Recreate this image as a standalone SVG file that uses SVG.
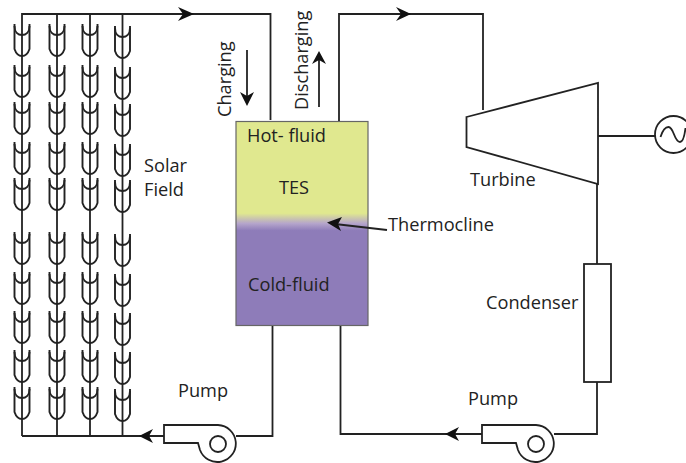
<svg xmlns="http://www.w3.org/2000/svg" width="686" height="463" viewBox="0 0 686 463">
<style>
.l{fill:none;stroke:#222;stroke-width:1.8}
.c{fill:none;stroke:#222;stroke-width:1.9}
.h{fill:#111;stroke:none}
text{font-family:"Open Sans","Noto Sans","Liberation Sans",sans-serif;font-size:18.2px;fill:#222}
</style>
<defs>
<linearGradient id="tes" x1="0" y1="0" x2="0" y2="1">
<stop offset="0" stop-color="#e0e88f"/><stop offset="0.45" stop-color="#e0e88f"/><stop offset="0.5" stop-color="#b5a5cb"/><stop offset="0.535" stop-color="#8e7cb9"/><stop offset="1" stop-color="#8e7cb9"/>
</linearGradient>
<g id="col">
<path class="c" d="M-7.500 2C-7.500 8-4 11 0 11C4 11 7.500 8 7.500 2"/>
<path class="c" d="M-7.500 0V25C-6 29.500-3 32 0 32C3 32 6 29.500 7.500 25V0"/>
</g>
<g id="cols">
<use href="#col" y="24"/><use href="#col" y="65"/><use href="#col" y="102"/><use href="#col" y="142"/><use href="#col" y="178"/>
<use href="#col" y="232"/><use href="#col" y="272"/><use href="#col" y="311"/><use href="#col" y="350"/><use href="#col" y="387"/>
</g>
</defs>
<g id="tes-tank"><rect x="236" y="121.500" width="132" height="204" fill="url(#tes)" stroke="#666" stroke-width="1.200"/>
<text x="247" y="141.500">Hot- fluid</text><text x="279" y="193.500">TES</text><text x="248" y="290.500">Cold-fluid</text></g>
<g id="solar-field">
<use href="#cols" x="22"/><use href="#cols" x="57"/><use href="#cols" x="90"/><use href="#cols" x="122.500" y="2"/>
<text x="144" y="172">Solar</text><text x="144" y="196">Field</text></g>
<g id="connectors">
<path class="l" d="M22 436V14H270.500V120"/>
<path class="l" d="M57 14V436M90 14V436M122.500 14V436"/>
<path class="l" d="M22 436H164"/>
<path class="l" d="M236 436H272.500V326"/>
<path class="l" d="M339 121V14H483V110"/>
<path class="l" d="M597 184V264M597 382V434H554"/>
<path class="l" d="M482 434H340.500V326"/>
<path class="l" d="M598 136H655"/>
<path class="h" d="M194 14L178 7L183 14L178 21Z"/>
<path class="h" d="M411 14L396 7L401 14L396 21Z"/>
<path class="h" d="M139 436L153 429L149 436L153 443Z"/>
<path class="h" d="M445 434L459 427L455 434L459 441Z"/>
<path class="l" d="M247 50V100"/><path class="h" d="M247 106L240 92L247 96L254 92Z"/>
<path class="l" d="M319 107V60"/><path class="h" d="M319 51L312 64L319 60L326 64Z"/>
<path class="l" d="M387 230L335 224"/><path class="h" d="M327 222.500L342 217L338 224L341 231Z"/>
</g>
<g id="charging-label"><text transform="translate(231 117) rotate(-90)">Charging</text></g>
<g id="discharging-label"><text transform="translate(308 110) rotate(-90)">Discharging</text></g>
<g id="thermocline-label"><text x="388" y="230.500">Thermocline</text></g>
<g id="turbine"><path class="l" d="M466.500 117L598 83V184L466.500 147Z"/><text x="470" y="186">Turbine</text></g>
<g id="generator"><circle class="l" cx="673.500" cy="134.500" r="18.500"/><path class="l" d="M660.500 137C663 129 666 127 668.500 127C674 127 674 142 680 142C682.500 142 684.500 136 685.500 128"/></g>
<g id="condenser"><rect class="l" x="584" y="264" width="27" height="118"/><text x="486" y="309">Condenser</text></g>
<g id="pump-1"><path class="l" d="M164 425H218A18.500 18.500 0 1 1 200 450L198 443H164Z"/><circle class="l" cx="218" cy="444" r="8"/><text x="178" y="397">Pump</text></g>
<g id="pump-2"><path class="l" d="M482 425H536A18.500 18.500 0 1 1 518 450L516 443H482Z"/><circle class="l" cx="536" cy="444" r="8"/><text x="468" y="405">Pump</text></g>
</svg>
